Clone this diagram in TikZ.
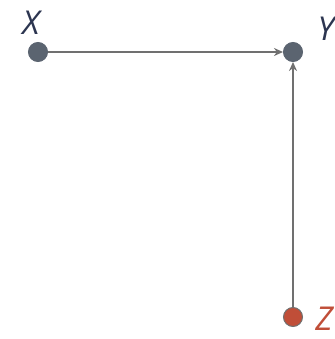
\documentclass[tikz,border=0pt]{standalone}
\usepackage{fontspec}
\setmainfont{Open Sans}
\usetikzlibrary{arrows.meta}

\definecolor{dotgray}{HTML}{5B6470}
\definecolor{edgegray}{HTML}{707070}
\definecolor{labelnavy}{HTML}{2C3550}
\definecolor{zred}{HTML}{C04E38}

\begin{document}
\begin{tikzpicture}[
        x=1bp, y=1bp,
        >={Stealth[length=9bp, width=8bp]},
        vertex/.style={circle, fill=dotgray, draw=dotgray, line width=1bp, minimum size=19bp, inner sep=0pt},
        varname/.style={font=\fontsize{33}{38}\selectfont\itshape, text=labelnavy, inner sep=0pt},
        link/.style={->, edgegray, line width=1.5bp}
    ]
    \useasboundingbox (0,0) rectangle (335,339);

% ---------- vertices ----------
    \node[vertex] (x) at (38,287) {};
    \node[vertex] (y) at (293,287) {};
    \node[vertex, fill=zred, draw=edgegray] (z) at (293,22) {};

% ---------- names ----------
    \node[varname] (xl) at (31,316) {X};
    \node[varname] (yl) at (326,310) {Y};
    \node[varname, text=zred] (zl) at (324,20) {Z};

% ---------- edges ----------
    \draw[link] (x) -- (y);
    \draw[link] (z) -- (y);

\end{tikzpicture}
\end{document}
